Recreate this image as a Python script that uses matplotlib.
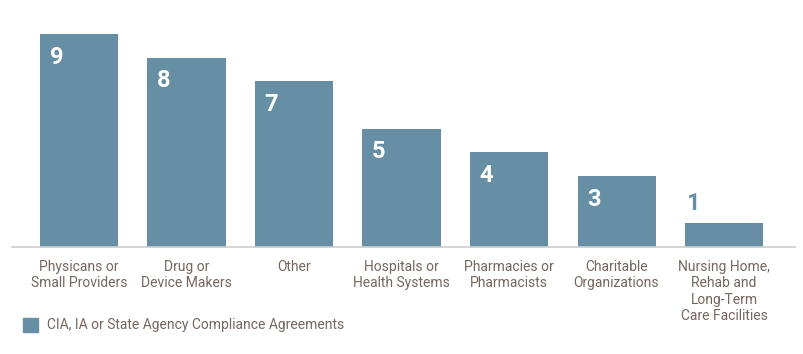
import matplotlib
matplotlib.use("Agg")
import matplotlib.pyplot as plt
from matplotlib.patches import Rectangle

categories = ['Physicans or\nSmall Providers', 'Drug or\nDevice Makers', 'Other',
              'Hospitals or\nHealth Systems', 'Pharmacies or\nPharmacists',
              'Charitable\nOrganizations',
              'Nursing Home,\nRehab and\nLong-Term\nCare Facilities']
counts = [9, 8, 7, 5, 4, 3, 1]
legend_label = 'CIA, IA or State Agency Compliance Agreements'

bar_color = '#668fa6'
text_color = '#75665e'

plt.rcParams['font.family'] = ['Roboto', 'DejaVu Sans']

fig = plt.figure(figsize=(8.04, 3.54), dpi=100)
ax = fig.add_axes([12/804, (354-247)/354, 783/804, 227/354])

x = list(range(len(counts)))
ax.bar(x, counts, width=0.726, color=bar_color, zorder=2)
ax.set_xlim(-0.623, 6.66)
ax.set_ylim(0, 9.59)

for i, v in zip(x, counts):
    left = i - 0.726/2
    if v >= 2:
        ax.annotate(str(v), (left, v), xytext=(7, -8.5), textcoords='offset points',
                    ha='left', va='top', fontsize=17, fontweight='bold', color='white')
    else:
        ax.annotate(str(v), (left, v), xytext=(1, 6), textcoords='offset points',
                    ha='left', va='bottom', fontsize=17, fontweight='bold', color=bar_color)

for s in ['top', 'right', 'left']:
    ax.spines[s].set_visible(False)
ax.spines['bottom'].set_color('#cccccc')
ax.spines['bottom'].set_linewidth(1.2)
ax.set_yticks([])
ax.set_xticks(x)
ax.set_xticklabels(categories, fontsize=10, color=text_color, linespacing=1.2)
ax.tick_params(axis='x', length=0, pad=9.5)

# legend
fig.patches.append(Rectangle((23/804, (354-332)/354), 15/804, 14/354,
                             transform=fig.transFigure, color=bar_color, figure=fig))
fig.text(47/804, (354-325)/354, legend_label, fontsize=10, color=text_color,
         va='center', ha='left')

plt.savefig('out.png', dpi=100)
